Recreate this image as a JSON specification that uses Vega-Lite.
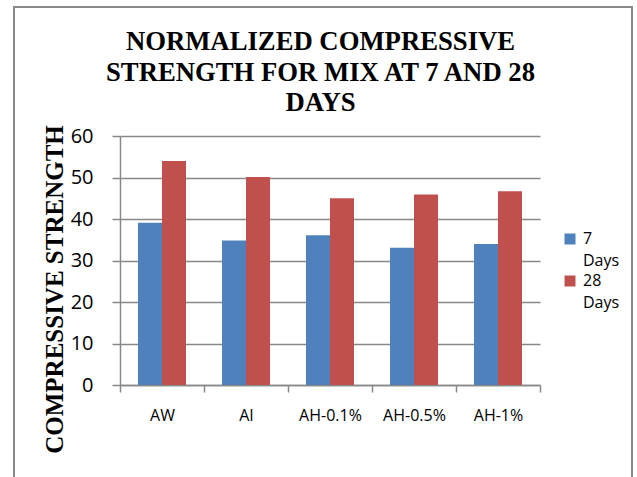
{
  "$schema": "https://vega.github.io/schema/vega-lite/v6.json",
  "width": 618,
  "height": 480,
  "autosize": {"type": "none"},
  "padding": {"left": 14, "top": 7, "right": 5, "bottom": 0},
  "background": "white",
  "title": {
    "text": ["NORMALIZED COMPRESSIVE", "STRENGTH FOR  MIX AT 7 AND 28", "DAYS"],
    "font": "Liberation Serif",
    "fontSize": 26.7,
    "fontWeight": "bold",
    "color": "black",
    "lineHeight": 30.5,
    "anchor": "middle",
    "frame": "group",
    "baseline": "alphabetic",
    "offset": -131,
    "dx": -2.5
  },
  "data": {
    "values": [
      {"mix": "AW", "age": "7 Days", "strength": 39.1},
      {"mix": "AW", "age": "28 Days", "strength": 54.0},
      {"mix": "AI", "age": "7 Days", "strength": 34.8},
      {"mix": "AI", "age": "28 Days", "strength": 50.1},
      {"mix": "AH-0.1%", "age": "7 Days", "strength": 36.1},
      {"mix": "AH-0.1%", "age": "28 Days", "strength": 45.0},
      {"mix": "AH-0.5%", "age": "7 Days", "strength": 33.1},
      {"mix": "AH-0.5%", "age": "28 Days", "strength": 45.9},
      {"mix": "AH-1%", "age": "7 Days", "strength": 34.0},
      {"mix": "AH-1%", "age": "28 Days", "strength": 46.7}
    ]
  },
  "mark": {"type": "bar"},
  "encoding": {
    "x": {
      "field": "mix",
      "type": "nominal",
      "sort": ["AW", "AI", "AH-0.1%", "AH-0.5%", "AH-1%"],
      "scale": {"range": [106, 526], "paddingInner": 0, "paddingOuter": 0},
      "axis": {
        "title": null,
        "orient": "bottom",
        "offset": -102,
        "labelAngle": 0,
        "labelFont": "Open Sans",
        "labelFontSize": 16,
        "labelColor": "black",
        "labelPadding": 15,
        "tickSize": 7,
        "tickBand": "extent",
        "tickColor": "#888888",
        "tickWidth": 1.5,
        "domainColor": "#888888",
        "domainWidth": 1.5,
        "grid": false
      }
    },
    "xOffset": {
      "field": "age",
      "type": "nominal",
      "sort": ["7 Days", "28 Days"],
      "scale": {"paddingInner": 0, "paddingOuter": 0.75}
    },
    "y": {
      "field": "strength",
      "type": "quantitative",
      "scale": {"domain": [0, 60], "range": [378, 129], "nice": false},
      "axis": {
        "title": "COMPRESSIVE STRENGTH",
        "titleFont": "Liberation Serif",
        "titleFontSize": 25,
        "titleFontWeight": "bold",
        "titleColor": "black",
        "titleAngle": -90,
        "titleAlign": "center",
        "titleBaseline": "alphabetic",
        "titleX": -58,
        "titleY": 282,
        "offset": -106,
        "values": [0, 10, 20, 30, 40, 50, 60],
        "labelFont": "Open Sans",
        "labelFontSize": 20,
        "labelColor": "black",
        "labelPadding": 19,
        "tickSize": 8,
        "tickColor": "#888888",
        "tickWidth": 1.5,
        "domainColor": "#888888",
        "domainWidth": 1.5,
        "grid": true,
        "gridColor": "#888888",
        "gridWidth": 1.5
      }
    },
    "color": {
      "field": "age",
      "type": "nominal",
      "scale": {"domain": ["7 Days", "28 Days"], "range": ["#4F81BD", "#C0504D"]},
      "legend": {
        "title": null,
        "orient": "none",
        "legendX": 548,
        "legendY": 224,
        "padding": 0,
        "symbolType": "square",
        "symbolSize": 121,
        "symbolStrokeWidth": 0,
        "labelExpr": "split(datum.label, ' ')",
        "labelFont": "Open Sans",
        "labelFontSize": 16,
        "labelColor": "black",
        "labelOffset": 5,
        "rowPadding": 4,
        "encode": {
          "labels": {"update": {"lineHeight": {"value": 22}}}
        }
      }
    }
  },
  "config": {"view": {"stroke": "#898989", "strokeWidth": 2}}
}
